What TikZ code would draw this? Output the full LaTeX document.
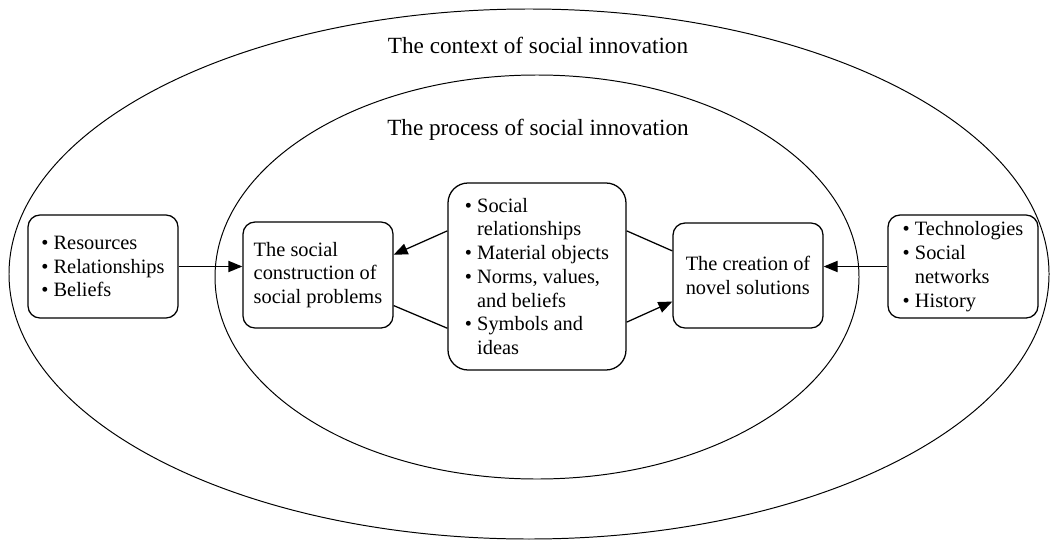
\documentclass[tikz,border=0pt]{standalone}
\usepackage{fontspec}
\setmainfont{Liberation Serif}
\usetikzlibrary{arrows.meta}
\newcommand{\blt}{\textbullet\ }
\newcommand{\bltin}{\hphantom{\textbullet\ }}

\begin{document}
\begin{tikzpicture}[scale=1,
  box/.style={draw, line width=0.9pt, rounded corners=0.3cm, align=left,
    minimum width=3.75cm, font=\fontsize{14.5}{16.9}\selectfont},
  ring/.style={draw, line width=0.7pt},
  lnk/.style={line width=0.9pt},
  arr/.style={line width=0.9pt, -{Triangle[length=0.35cm, width=0.28cm]}},
  head/.style={font=\fontsize{16.5}{20}\selectfont}]
\useasboundingbox (0,0) rectangle (26.275,13.525);
% rings
\draw[ring] (13.225,6.675) ellipse (13.0 and 6.625);
\draw[ring] (13.425,6.6) ellipse (8.05 and 5.05);
\node[head] (ctx) at (13.45,12.4) {The context of social innovation};
\node[head] (proc) at (13.45,10.275) {The process of social innovation};
% boxes
\node[box, minimum height=2.575cm] (res) at (2.575,6.8625)
  {\blt Resources\\ \blt Relationships\\ \blt Beliefs};
\node[box, minimum height=2.65cm] (prob) at (7.95,6.65)
  {The social\\ construction of\\ social problems};
\node[box, minimum width=4.45cm, minimum height=4.675cm, rounded corners=0.5cm] (mid) at (13.425,6.6125)
  {\blt Social\\ \bltin relationships\\ \blt Material objects\\ \blt Norms, values,\\ \bltin and beliefs\\ \blt Symbols and\\ \bltin ideas};
\node[box, minimum height=2.625cm] (sol) at (18.7,6.6375)
  {The creation of\\ novel solutions};
\node[box, minimum height=2.575cm] (tech) at (24.075,6.8625)
  {\blt Technologies\\ \blt Social\\ \bltin networks\\ \blt History};
% connectors
\draw[arr] (res.east) -- (res.east -| prob.west);
\draw[arr] (tech.west) -- (tech.west -| sol.east);
\draw[arr] (mid.153) -- (prob.15);
\draw[lnk] (prob.338) -- (mid.210);
\draw[lnk] (mid.27) -- (sol.162);
\draw[arr] (mid.333) -- (sol.199);
\end{tikzpicture}
\end{document}
